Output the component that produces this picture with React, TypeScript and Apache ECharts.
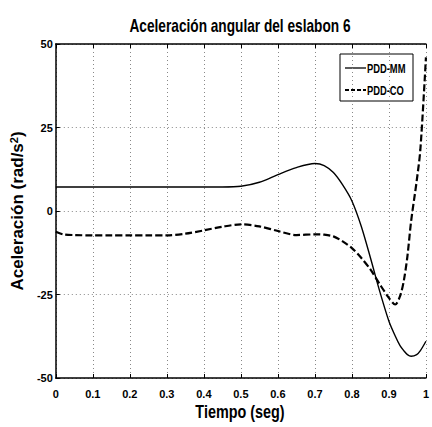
import React, { useEffect, useRef } from "react";
import * as echarts from "echarts";

const tVals = [0, 0.02, 0.05, 0.1, 0.15, 0.2, 0.25, 0.3, 0.35, 0.4, 0.45, 0.5, 0.55, 0.6, 0.65, 0.7, 0.725, 0.75, 0.775, 0.8, 0.825, 0.85, 0.875, 0.9, 0.917, 0.93, 0.94, 0.95, 0.96, 0.975, 0.985, 1.0];
const pddMM = [7.2, 7.2, 7.2, 7.2, 7.2, 7.2, 7.2, 7.2, 7.2, 7.2, 7.2, 7.4, 8.6, 10.9, 13.0, 14.2, 13.6, 11.5, 7.8, 3.0, -4.5, -14, -24, -33, -37.4, -40.3, -41.8, -43, -43.5, -43, -41.8, -39];
const pddCO = [-6.2, -7.0, -7.2, -7.3, -7.3, -7.3, -7.3, -7.3, -6.8, -5.8, -4.7, -4.0, -4.6, -6.0, -7.2, -7.0, -7.1, -7.6, -9.1, -11.1, -14, -17.5, -21.9, -26, -28, -25.5, -21, -13.5, -3, 9, 18.5, 46];
const seriesNames = ["PDD-MM", "PDD-CO"];
const yTicks = [-50, -25, 0, 25, 50];
const titleText = "Aceleración angular del eslabon 6";
const xName = "Tiempo (seg)";
const yName = "Aceleración (rad/s{sup|2})";

const SANS = "'Liberation Sans', Arial, sans-serif";

export default function App() {
  const ref = useRef<HTMLDivElement>(null);
  useEffect(() => {
    if (!ref.current) return;
    const chart = echarts.init(ref.current, null, { renderer: "svg" });
    const mm = tVals.map((t, i) => [t, pddMM[i]]);
    const co = tVals.map((t, i) => [t, pddCO[i]]);
    const tickLabel = { color: "#000", fontFamily: SANS, fontWeight: "bold" as const, fontSize: 11 };
    chart.setOption({
      animation: false,
      backgroundColor: "#fff",
      graphic: [
        {
          type: "text",
          x: 240,
          y: 26,
          scaleX: 0.76,
          style: { text: titleText, font: "bold 18px 'Liberation Sans', Arial, sans-serif", fill: "#000", textAlign: "center", textVerticalAlign: "middle" },
        },
        {
          type: "text",
          x: 240,
          y: 411,
          scaleX: 0.8,
          style: { text: xName, font: "bold 18px 'Liberation Sans', Arial, sans-serif", fill: "#000", textAlign: "center", textVerticalAlign: "middle" },
        },
        {
          type: "group",
          z: 100,
          children: [
            { type: "rect", shape: { x: 340, y: 54, width: 73, height: 47 }, style: { fill: "#fff", stroke: "#000", lineWidth: 1 } },
            { type: "line", shape: { x1: 345, y1: 68, x2: 366, y2: 68 }, style: { stroke: "#000", lineWidth: 1.3 } },
            { type: "line", shape: { x1: 345, y1: 90, x2: 366, y2: 90 }, style: { stroke: "#000", lineWidth: 2, lineDash: [4, 2] } },
            { type: "text", x: 367, y: 68, scaleX: 0.72, style: { text: seriesNames[0], font: "bold 13px 'Liberation Sans', Arial, sans-serif", fill: "#000", textAlign: "left", textVerticalAlign: "middle" } },
            { type: "text", x: 367, y: 90, scaleX: 0.72, style: { text: seriesNames[1], font: "bold 13px 'Liberation Sans', Arial, sans-serif", fill: "#000", textAlign: "left", textVerticalAlign: "middle" } },
          ],
        },
      ],
      grid: { left: 45, top: 44, width: 389, height: 334 },
      xAxis: [
        {
          type: "value",
          min: 0,
          max: 1,
          interval: 0.1,
          axisLine: { show: true, onZero: false, lineStyle: { color: "#000", width: 1.5 } },
          axisTick: { show: true, inside: true, length: 4, lineStyle: { color: "#000" } },
          axisLabel: { ...tickLabel, margin: 10 },
          splitLine: { show: true, lineStyle: { color: "#888", type: [1, 3], width: 1 } },
        },
        {
          type: "value",
          position: "top",
          min: 0,
          max: 1,
          interval: 0.1,
          axisLine: { show: true, onZero: false, lineStyle: { color: "#000", width: 1.5 } },
          axisTick: { show: true, inside: true, length: 4, lineStyle: { color: "#000" } },
          axisLabel: { show: false },
          splitLine: { show: false },
        },
      ],
      yAxis: [
        {
          type: "value",
          min: yTicks[0],
          max: yTicks[yTicks.length - 1],
          interval: 25,
          name: yName,
          nameLocation: "middle",
          nameGap: 23,
          nameRotate: 90,
          nameTextStyle: {
            color: "#000",
            fontFamily: SANS,
            fontWeight: "bold",
            fontSize: 17,
            rich: {
              sup: { color: "#000", fontFamily: SANS, fontWeight: "bold", fontSize: 11, verticalAlign: "top", padding: [0, 0, 8, 0] },
            },
          },
          axisLine: { show: true, onZero: false, lineStyle: { color: "#000", width: 1.5 } },
          axisTick: { show: true, inside: true, length: 4, lineStyle: { color: "#000" } },
          axisLabel: { ...tickLabel, margin: 3 },
          splitLine: { show: true, lineStyle: { color: "#888", type: [1, 3], width: 1 } },
        },
      ],
      series: [
        {
          name: seriesNames[0],
          type: "line",
          data: mm,
          showSymbol: false,
          symbol: "none",
          smooth: 0.3,
          lineStyle: { color: "#000", width: 1.4, type: "solid" },
          itemStyle: { color: "#000" },
        },
        {
          name: seriesNames[1],
          type: "line",
          data: co,
          showSymbol: false,
          symbol: "none",
          smooth: 0.3,
          lineStyle: { color: "#000", width: 2.2, type: [7, 3] },
          itemStyle: { color: "#000" },
        },
      ],
    });
    return () => chart.dispose();
  }, []);
  return (
    <div
      ref={ref}
      style={{ position: "fixed", left: 0, top: 0, width: 432, height: 427, background: "#fff" }}
    />
  );
}
